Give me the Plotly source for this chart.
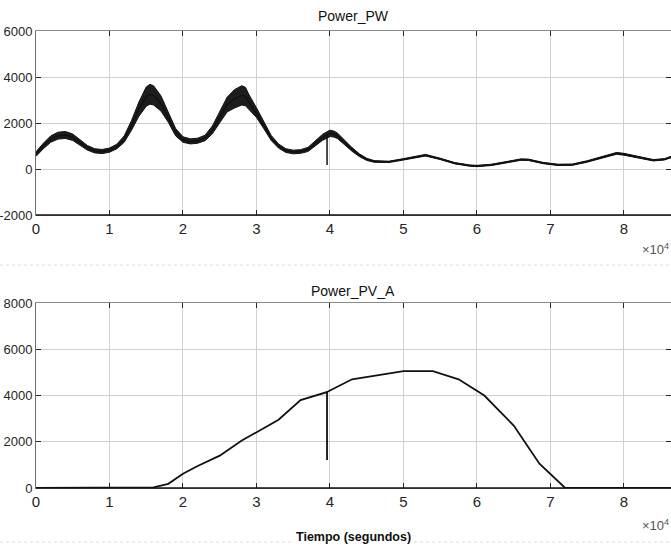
import plotly.graph_objects as go

# ---------------- data (time in units of 1e4 s) ----------------
pw_t = [0.00, 0.05, 0.10, 0.20, 0.30, 0.40, 0.50, 0.60, 0.70, 0.80, 0.90, 1.00,
        1.10, 1.20, 1.30, 1.40, 1.50, 1.55, 1.60, 1.70, 1.80, 1.90, 2.00, 2.10,
        2.20, 2.30, 2.40, 2.50, 2.60, 2.70, 2.80, 2.85, 2.90, 3.00, 3.10, 3.20,
        3.30, 3.40, 3.50, 3.60, 3.70, 3.80, 3.90, 3.96, 4.00, 4.05, 4.10, 4.20,
        4.30, 4.40, 4.50, 4.60, 4.80, 5.00, 5.20, 5.30, 5.50, 5.70, 5.90, 6.00,
        6.20, 6.40, 6.60, 6.70, 6.90, 7.10, 7.30, 7.50, 7.70, 7.90, 8.00, 8.20,
        8.40, 8.55, 8.64]
pw_mid = [650, 850, 1000, 1300, 1450, 1480, 1380, 1150, 920, 790, 760, 820,
          980, 1300, 1900, 2600, 3150, 3250, 3200, 2850, 2250, 1600, 1280, 1200,
          1230, 1350, 1700, 2250, 2800, 3050, 3200, 3150, 2900, 2450, 1900, 1350,
          1000, 800, 740, 760, 850, 1100, 1380, 1480, 1550, 1520, 1450, 1150,
          850, 600, 420, 330, 310, 420, 560, 600, 440, 250, 150, 130,
          180, 300, 410, 400, 260, 180, 190, 330, 520, 680, 640, 500,
          380, 420, 520]
pw_noise = [100, 110, 120, 140, 150, 150, 140, 120, 100, 90, 90, 90,
            100, 140, 210, 310, 420, 430, 420, 330, 220, 160, 120, 110,
            110, 120, 170, 240, 320, 400, 420, 400, 320, 210, 150, 110,
            90, 80, 80, 80, 90, 110, 130, 140, 140, 130, 120, 100,
            80, 60, 45, 35, 30, 30, 35, 35, 30, 28, 28, 28,
            28, 28, 30, 30, 28, 28, 28, 30, 35, 40, 40, 35,
            30, 30, 30]

pv_t = [0.00, 1.45, 1.60, 1.80, 2.00, 2.20, 2.50, 2.80, 3.00, 3.30, 3.60, 3.96,
        4.30, 5.00, 5.40, 5.75, 6.10, 6.50, 6.85, 7.20, 8.64]
pv_val = [0, 0, 30, 180, 620, 950, 1400, 2050, 2420, 2950, 3800, 4150,
          4700, 5050, 5050, 4700, 4000, 2700, 1050, 0, 0]

spike_t = 3.96          # switching transient (x 1e4 s)
pw_spike_low = 170
pv_spike_low = 1210

x_ticks = [0, 1, 2, 3, 4, 5, 6, 7, 8]
x_ticklabels = ["0", "1", "2", "3", "4", "5", "6", "7", "8"]
pw_yticks = [-2000, 0, 2000, 4000, 6000]
pv_yticks = [0, 2000, 4000, 6000, 8000]
x_scale = 1e4
x_max = 8.64

titles = ["Power_PW", "Power_PV_A"]
xlabel = "Tiempo (segundos)"

# ---------------- build ----------------
W, H = 671, 548
FONT = "Liberation Sans, Arial, sans-serif"

def insert_spike(ts, vs, t0, low):
    xs, ys = [], []
    done = False
    for t, v in zip(ts, vs):
        xs.append(t * x_scale); ys.append(v)
        if not done and abs(t - t0) < 1e-9:
            xs += [t * x_scale, t * x_scale]; ys += [low, v]
            done = True
    return xs, ys

fig = go.Figure()

pw_up = [m + n for m, n in zip(pw_mid, pw_noise)]
pw_lo = [m - n for m, n in zip(pw_mid, pw_noise)]
px = [t * x_scale for t in pw_t]
fig.add_trace(go.Scatter(x=px, y=pw_lo, mode="lines", line=dict(color="#111111", width=1),
                         hoverinfo="skip", showlegend=False, xaxis="x", yaxis="y"))
fig.add_trace(go.Scatter(x=px, y=pw_up, mode="lines", line=dict(color="#111111", width=1),
                         fill="tonexty", fillcolor="rgba(10,10,10,0.92)",
                         hoverinfo="skip", showlegend=False, xaxis="x", yaxis="y"))
sx, sy = insert_spike(pw_t, pw_mid, spike_t, pw_spike_low)
fig.add_trace(go.Scatter(x=sx, y=sy, mode="lines", line=dict(color="#111111", width=1.5),
                         showlegend=False, name="Power_PW", xaxis="x", yaxis="y"))

vx, vy = insert_spike(pv_t, pv_val, spike_t, pv_spike_low)
fig.add_trace(go.Scatter(x=vx, y=vy, mode="lines", line=dict(color="#111111", width=1.8),
                         showlegend=False, name="Power_PV_A", xaxis="x2", yaxis="y2"))

def py2paper(py):
    return 1 - py / H

x0 = 36 / W
top_dom = [py2paper(215), py2paper(31)]
bot_dom = [py2paper(488), py2paper(303)]

common_x = dict(range=[0, x_max * x_scale], tickvals=[v * x_scale for v in x_ticks],
                ticktext=x_ticklabels, showgrid=True, gridcolor="#d2d2d2", gridwidth=1,
                zeroline=False, showline=True, linecolor="#8a8a8a", linewidth=1,
                mirror="ticks", ticks="inside", ticklen=5, tickcolor="#262626",
                automargin=False,
                tickfont=dict(family=FONT, size=15, color="#262626"), domain=[x0, 1])
common_y = dict(showgrid=True, gridcolor="#cfcfcf", gridwidth=1, zeroline=False,
                showline=True, linecolor="#6e6e6e", linewidth=1, mirror="ticks",
                ticks="inside", ticklen=5, tickcolor="#262626", automargin=False,
                tickfont=dict(family=FONT, size=13, color="#262626"))

fig.update_layout(
    template="none",
    width=W, height=H, margin=dict(l=0, r=0, t=0, b=0, pad=0),
    paper_bgcolor="white", plot_bgcolor="white", showlegend=False,
    xaxis=dict(**common_x, anchor="y"),
    yaxis=dict(**common_y, domain=top_dom, range=[-2000, 6000], tickvals=pw_yticks,
               ticktext=[str(v) for v in pw_yticks], anchor="x"),
    xaxis2=dict(**common_x, anchor="y2"),
    yaxis2=dict(**common_y, domain=bot_dom, range=[0, 8000], tickvals=pv_yticks,
                ticktext=[str(v) for v in pv_yticks], anchor="x2"),
)

shapes = []
for xr, yr in (("x domain", "y domain"), ("x2 domain", "y2 domain")):
    shapes.append(dict(type="line", xref=xr, yref=yr, x0=0, x1=1, y0=0, y1=0,
                       line=dict(color="#111111", width=1.3)))
for py in (265, 542):
    shapes.append(dict(type="line", xref="paper", yref="paper", x0=0, x1=1,
                       y0=py2paper(py), y1=py2paper(py),
                       line=dict(color="#dcdcdc", width=1, dash="dot"), layer="below"))
fig.update_layout(shapes=shapes)

ann = []
ann.append(dict(text=titles[0], x=353 / W, y=py2paper(16), xref="paper", yref="paper",
                xanchor="center", yanchor="middle",
                showarrow=False, font=dict(family=FONT, size=14, color="#111111")))
ann.append(dict(text=titles[1], x=353 / W, y=py2paper(291), xref="paper", yref="paper",
                xanchor="center", yanchor="middle",
                showarrow=False, font=dict(family=FONT, size=14, color="#111111")))
ann.append(dict(text="<b>" + xlabel + "</b>", x=353 / W, y=py2paper(537), xref="paper",
                yref="paper", xanchor="center", yanchor="middle", showarrow=False,
                bgcolor="white", font=dict(family=FONT, size=12.5, color="#111111")))
for py in (249, 525):
    ann.append(dict(text="×10<sup>4</sup>", x=1.0, y=py2paper(py), xref="paper", yref="paper",
                    xanchor="right", yanchor="middle", showarrow=False,
                    font=dict(family=FONT, size=13, color="#555555")))
fig.update_layout(annotations=ann)

fig.write_html("out.html", config={"displayModeBar": False},
               post_script="document.body.style.margin='0';document.body.style.overflow='hidden';")
